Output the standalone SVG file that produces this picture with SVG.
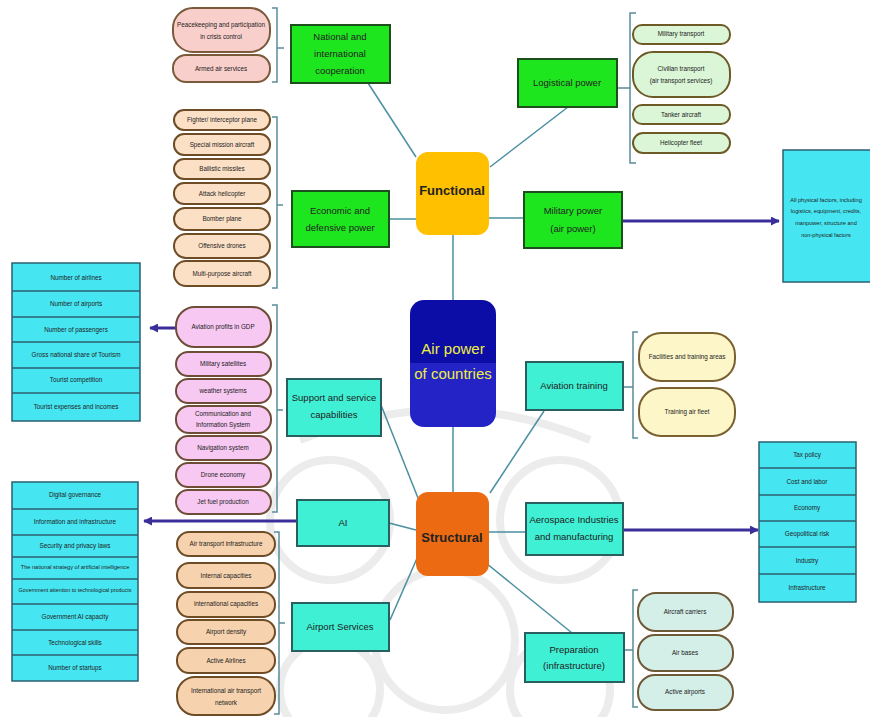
<svg xmlns="http://www.w3.org/2000/svg" width="870" height="717" viewBox="0 0 870 717">
<defs>
<style>
text{font-family:"Liberation Sans Narrow","Liberation Sans",Arial,sans-serif;fill:#222;text-anchor:middle;dominant-baseline:middle}
.s{font-size:6.3px}
.m{font-size:9.5px}
.green{fill:#1ee61e;stroke:#1d4f1d;stroke-width:2}
.turq{fill:#3ff0d4;stroke:#2a5f60;stroke-width:2}
.pk{fill:#f9cfcb;stroke:#7a5a3a;stroke-width:2}
.pe{fill:#fbe0c6;stroke:#6e4c26;stroke-width:2}
.pp{fill:#f7c8f2;stroke:#6e4c36;stroke-width:2}
.pa{fill:#f6d2ae;stroke:#6e4c26;stroke-width:2}
.pg{fill:#daf6d6;stroke:#6e5a26;stroke-width:2}
.py{fill:#fdf6c8;stroke:#7a6230;stroke-width:2}
.pt{fill:#d4eee8;stroke:#6e5a36;stroke-width:2}
.list{fill:#45e6f2;stroke:#2b6070;stroke-width:1.5}
.row{stroke:#2b6070;stroke-width:1.5}
.br{fill:none;stroke:#5a8c98;stroke-width:1.5}
.con{fill:none;stroke:#4a8fa0;stroke-width:1.5}
.arr{fill:none;stroke:#3a2f9a;stroke-width:3;marker-end:url(#ah)}
.wm{fill:none;stroke:#ececec;stroke-width:8}
.big{font-size:15px;fill:#f0f040}
</style>
<marker id="ah" viewBox="0 0 10 10" refX="9" refY="5" markerWidth="3" markerHeight="3" orient="auto"><path d="M0,0 L10,5 L0,10 z" fill="#3a2f9a"/></marker>
<linearGradient id="cg" x1="0" y1="0" x2="0" y2="1"><stop offset="0" stop-color="#0c0ca6"/><stop offset="0.5" stop-color="#0c0ca6"/><stop offset="0.5" stop-color="#2323c6"/><stop offset="1" stop-color="#2323c6"/></linearGradient>
</defs>
<rect width="870" height="717" fill="#fff"/>
<g id="watermark">
<circle class="wm" cx="330" cy="520" r="60"/>
<circle class="wm" cx="560" cy="520" r="60"/>
<circle class="wm" cx="445" cy="640" r="70"/>
<circle class="wm" cx="330" cy="690" r="50"/>
<circle class="wm" cx="560" cy="690" r="50"/>
<path class="wm" d="M300 440 Q445 380 590 440"/>
</g>
<g id="connectors">
<path class="con" d="M368 83 L416 157"/>
<path class="con" d="M490 167 L568 107"/>
<path class="con" d="M389 219 L416 219"/>
<path class="con" d="M489 218 L524 218"/>
<path class="con" d="M453 235 L453 300"/>
<path class="con" d="M453 427 L453 492"/>
<path class="con" d="M381 405 L418 498"/>
<path class="con" d="M389 523 L416 530"/>
<path class="con" d="M390 620 L418 556"/>
<path class="con" d="M490 493 L544 411"/>
<path class="con" d="M489 532 L526 532"/>
<path class="con" d="M486 563 L572 633"/>
<path class="br" d="M272 8 H277 V82 H272 M277 48 H284"/>
<path class="br" d="M272 117 H277 V288 H272 M277 205 H283"/>
<path class="br" d="M272 305 H277 V512 H272 M277 410 H283"/>
<path class="br" d="M274 532 H279 V714 H274 M279 623 H285"/>
<path class="br" d="M636 13 H630 V163 H636 M630 88 H617"/>
<path class="br" d="M638 332 H633 V438 H638 M633 387 H623"/>
<path class="br" d="M638 590 H633 V707 H638 M633 650 H624"/>
<path class="arr" d="M622 221 L779 221"/>
<path class="arr" d="M176 328 L150 328"/>
<path class="arr" d="M297 521 L144 521"/>
<path class="arr" d="M623 530 L758 530"/>
</g>
<g id="center"><rect x="410" y="300" width="86" height="127" rx="14" fill="url(#cg)"/><text class="big" x="453" y="350">Air power</text><text class="big" x="453" y="375">of countries</text></g>
<g id="functional"><rect x="416" y="152" width="73" height="83" rx="12" fill="#ffc000"/><text x="452" y="192" style="font-size:13px;font-weight:bold">Functional</text></g>
<g id="structural"><rect x="416" y="492" width="73" height="84" rx="12" fill="#ec6a12"/><text x="452" y="539" style="font-size:13px;font-weight:bold">Structural</text></g>
<g id="national"><rect class="green" x="291" y="25" width="99" height="58"/><text class="m" x="340" y="37">National and</text><text class="m" x="340" y="54">international</text><text class="m" x="340" y="71">cooperation</text></g>
<g id="logistical"><rect class="green" x="518" y="59" width="99" height="48"/><text class="m" x="567" y="83">Logistical power</text></g>
<g id="economic"><rect class="green" x="292" y="191" width="97" height="56"/><text class="m" x="340" y="211">Economic and</text><text class="m" x="340" y="228">defensive power</text></g>
<g id="military"><rect class="green" x="524" y="192" width="98" height="56"/><text class="m" x="573" y="211">Military power</text><text class="m" x="573" y="229">(air power)</text></g>
<g id="support"><rect class="turq" x="287" y="379" width="94" height="57"/><text class="m" x="334" y="398">Support and service</text><text class="m" x="334" y="415">capabilities</text></g>
<g id="ai"><rect class="turq" x="297" y="500" width="92" height="46"/><text class="m" x="343" y="523">AI</text></g>
<g id="airport"><rect class="turq" x="292" y="603" width="97" height="48"/><text class="m" x="340" y="627">Airport Services</text></g>
<g id="training"><rect class="turq" x="526" y="362" width="97" height="48"/><text class="m" x="574" y="386">Aviation training</text></g>
<g id="aerospace"><rect class="turq" x="526" y="503" width="97" height="52"/><text class="m" x="574" y="520">Aerospace Industries</text><text class="m" x="574" y="537">and manufacturing</text></g>
<g id="preparation"><rect class="turq" x="525" y="633" width="99" height="49"/><text class="m" x="574" y="650">Preparation</text><text class="m" x="574" y="666">(infrastructure)</text></g>
<g id="national-items">
<rect class="pk" x="173" y="8" width="97" height="44" rx="20"/><text class="s" x="221" y="25">Peacekeeping and participation</text><text class="s" x="221" y="37">in crisis control</text>
<rect class="pk" x="173" y="55" width="97" height="27" rx="13"/><text class="s" x="221" y="69">Armed air services</text>
</g>
<g id="economic-items">
<rect class="pe" x="174" y="110" width="96" height="20" rx="10"/><text class="s" x="222" y="120">Fighter/ interceptor plane</text>
<rect class="pe" x="174" y="134" width="96" height="21" rx="10"/><text class="s" x="222" y="145">Special mission aircraft</text>
<rect class="pe" x="174" y="159" width="96" height="20" rx="10"/><text class="s" x="222" y="169">Ballistic missiles</text>
<rect class="pe" x="174" y="183" width="96" height="21" rx="10"/><text class="s" x="222" y="194">Attack helicopter</text>
<rect class="pe" x="174" y="208" width="96" height="22" rx="11"/><text class="s" x="222" y="219">Bomber plane</text>
<rect class="pe" x="174" y="234" width="96" height="24" rx="12"/><text class="s" x="222" y="246">Offensive drones</text>
<rect class="pe" x="174" y="261" width="96" height="25" rx="12"/><text class="s" x="222" y="274">Multi-purpose aircraft</text>
</g>
<g id="support-items">
<rect class="pp" x="176" y="307" width="95" height="40" rx="19"/><text class="s" x="223" y="327">Aviation profits in GDP</text>
<rect class="pp" x="176" y="352" width="95" height="24" rx="12"/><text class="s" x="223" y="364">Military satellites</text>
<rect class="pp" x="176" y="379" width="95" height="24" rx="12"/><text class="s" x="223" y="391">weather systems</text>
<rect class="pp" x="176" y="406" width="95" height="27" rx="13"/><text class="s" x="223" y="414">Communication and</text><text class="s" x="223" y="425">Information System</text>
<rect class="pp" x="176" y="436" width="95" height="24" rx="12"/><text class="s" x="223" y="448">Navigation system</text>
<rect class="pp" x="176" y="463" width="95" height="24" rx="12"/><text class="s" x="223" y="475">Drone economy</text>
<rect class="pp" x="176" y="490" width="95" height="24" rx="12"/><text class="s" x="223" y="502">Jet fuel production</text>
</g>
<g id="airport-items">
<rect class="pa" x="177" y="532" width="98" height="24" rx="12"/><text class="s" x="226" y="544">Air transport infrastructure</text>
<rect class="pa" x="177" y="563" width="98" height="25" rx="12"/><text class="s" x="226" y="576">Internal capacities</text>
<rect class="pa" x="177" y="592" width="98" height="25" rx="12"/><text class="s" x="226" y="604">international capacities</text>
<rect class="pa" x="177" y="620" width="98" height="24" rx="12"/><text class="s" x="226" y="632">Airport density</text>
<rect class="pa" x="177" y="648" width="98" height="25" rx="12"/><text class="s" x="226" y="661">Active Airlines</text>
<rect class="pa" x="177" y="677" width="98" height="38" rx="18"/><text class="s" x="226" y="691">International air transport</text><text class="s" x="226" y="703">network</text>
</g>
<g id="logistical-items">
<rect class="pg" x="633" y="25" width="97" height="19" rx="9"/><text class="s" x="681" y="34">Military transport</text>
<rect class="pg" x="633" y="52" width="97" height="45" rx="20"/><text class="s" x="681" y="69">Civilian transport</text><text class="s" x="681" y="81">(air transport services)</text>
<rect class="pg" x="633" y="105" width="97" height="19" rx="9"/><text class="s" x="681" y="115">Tanker aircraft</text>
<rect class="pg" x="633" y="133" width="97" height="20" rx="10"/><text class="s" x="681" y="143">Helicopter fleet</text>
</g>
<g id="training-items">
<rect class="py" x="639" y="333" width="96" height="48" rx="22"/><text class="s" x="687" y="357">Facilities and training areas</text>
<rect class="py" x="639" y="388" width="96" height="48" rx="22"/><text class="s" x="687" y="412">Training air fleet</text>
</g>
<g id="preparation-items">
<rect class="pt" x="638" y="593" width="95" height="38" rx="18"/><text class="s" x="685" y="612">Aircraft carriers</text>
<rect class="pt" x="638" y="635" width="95" height="36" rx="17"/><text class="s" x="685" y="653">Air bases</text>
<rect class="pt" x="638" y="675" width="95" height="35" rx="17"/><text class="s" x="685" y="692">Active airports</text>
</g>
<g id="military-factors"><rect class="list" x="783" y="150" width="95" height="132"/><text x="826" y="201" style="font-size:5.6px">All physical factors, including</text><text x="826" y="212" style="font-size:5.6px">logistics, equipment, credits,</text><text x="826" y="224" style="font-size:5.6px">manpower, structure and</text><text x="826" y="236" style="font-size:5.6px">non-physical factors</text></g>
<g id="tourism-list">
<rect class="list" x="12" y="263" width="128" height="158"/>
<path class="row" d="M12 291H140M12 317H140M12 342H140M12 368H140M12 393H140"/>
<text class="s" x="76" y="278">Number of airlines</text><text class="s" x="76" y="304">Number of airports</text><text class="s" x="76" y="330">Number of passengers</text><text class="s" x="76" y="355">Gross national share of Tourism</text><text class="s" x="76" y="380">Tourist competition</text><text class="s" x="76" y="407">Tourist expenses and incomes</text>
</g>
<g id="ai-list">
<rect class="list" x="12" y="482" width="126" height="199"/>
<path class="row" d="M12 509H138M12 535H138M12 557H138M12 579H138M12 604H138M12 630H138M12 655H138"/>
<text class="s" x="75" y="495">Digital governance</text><text class="s" x="75" y="522">Information and infrastructure</text><text class="s" x="75" y="546">Security and privacy laws</text><text x="75" y="568" style="font-size:5.6px">The national strategy of artificial intelligence</text><text x="75" y="591" style="font-size:5.4px">Government attention to technological products</text><text class="s" x="75" y="617">Government AI capacity</text><text class="s" x="75" y="643">Technological skills</text><text class="s" x="75" y="668">Number of startups</text>
</g>
<g id="aerospace-list">
<rect class="list" x="759" y="442" width="97" height="160"/>
<path class="row" d="M759 468H856M759 495H856M759 521H856M759 547H856M759 574H856"/>
<text class="s" x="807" y="455">Tax policy</text><text class="s" x="807" y="482">Cost and labor</text><text class="s" x="807" y="508">Economy</text><text class="s" x="807" y="534">Geopolitical risk</text><text class="s" x="807" y="561">Industry</text><text class="s" x="807" y="588">Infrastructure</text>
</g>
</svg>
